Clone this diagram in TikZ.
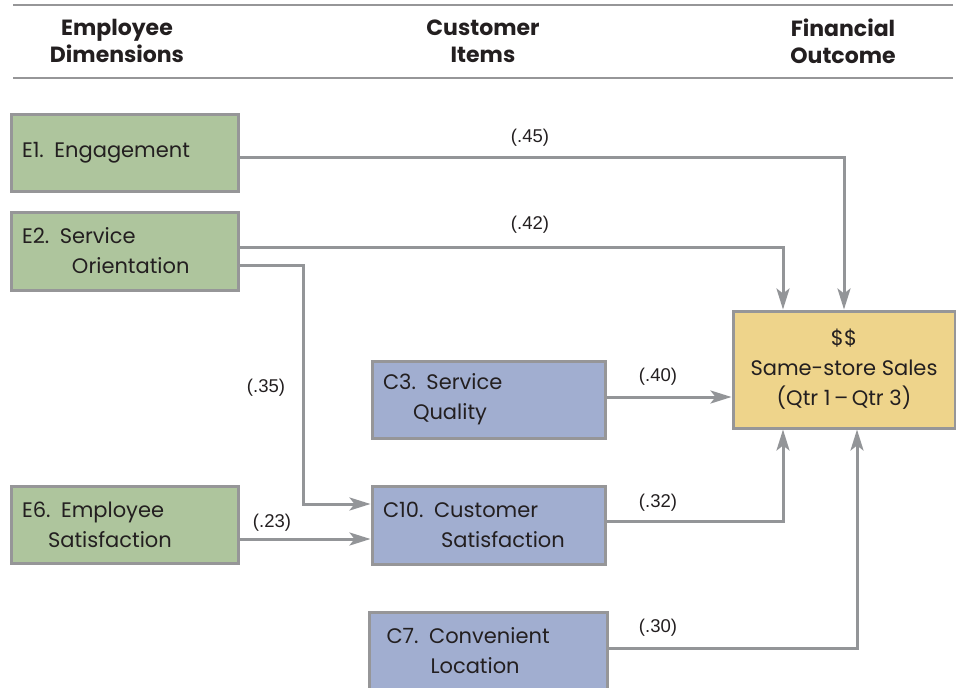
\documentclass[tikz,border=0pt]{standalone}
\usepackage{fontspec}
\setmainfont{Poppins}
\newfontfamily\labelfont{Liberation Sans}
\usetikzlibrary{arrows.meta}
\definecolor{boxgreen}{HTML}{AEC59D}
\definecolor{boxblue}{HTML}{A1AED0}
\definecolor{boxyellow}{HTML}{EED48B}
\definecolor{boxborder}{HTML}{969698}
\definecolor{arrowgray}{HTML}{939598}
\definecolor{inkcol}{HTML}{231F20}
\tikzset{
  box/.style={rectangle, draw=boxborder, line width=3pt, align=left, text=inkcol,
    font=\fontsize{21}{30}\selectfont, inner ysep=0pt},
  ebox/.style={box, fill=boxgreen, minimum width=227pt, minimum height=77pt, text width=205pt, inner xsep=11pt},
  cbox/.style={box, fill=boxblue, minimum width=233pt, minimum height=77pt, text width=211pt, inner xsep=11pt},
  sbox/.style={box, fill=boxyellow, minimum width=222pt, minimum height=117pt, align=center, inner xsep=0pt},
  head/.style={align=center, text=inkcol, font=\fontsize{22}{27}\selectfont\bfseries},
  lab/.style={text=inkcol, font=\labelfont\fontsize{18.5}{22}\selectfont, inner sep=0pt},
  conn/.style={draw=arrowgray, line width=3pt, -{Stealth[length=21pt,width=13pt,inset=5pt]}},
  rulel/.style={draw=boxborder, line width=2pt}
}
\begin{document}
\begin{tikzpicture}[x=1pt,y=-1pt]
\useasboundingbox (0,0) rectangle (956,688);
\draw[rulel] (13,5) -- (953,5);
\draw[rulel] (13,78) -- (953,78);
\node[head] (h1) at (117,41) {Employee\\Dimensions};
\node[head] (h2) at (483,41) {Customer\\Items};
\node[head] (h3) at (843,41) {Financial\\Outcome};

\node[ebox] (E1) at (124.5,152.5) {E1. Engagement};
\node[ebox, minimum height=78pt] (E2) at (124.5,251) {E2. Service\\\hspace*{50pt}Orientation};
\node[ebox] (E6) at (124.5,524.5) {E6. Employee\\\hspace*{26pt}Satisfaction};
\node[cbox] (C3) at (488.5,399.5) {C3. Service\\\hspace*{30pt}Quality};
\node[cbox, minimum height=78pt] (C10) at (488.5,525) {C10. Customer\\\hspace*{58pt}Satisfaction};
\node[cbox, minimum height=78pt, text width=204pt, inner xsep=17pt] (C7) at (488.5,651) {C7. Convenient\\\hspace*{44pt}Location};
\node[sbox] (S) at (844,369.5) {\$\$\\Same-store Sales\\(Qtr 1\,–\,Qtr 3)};

\draw[conn] (E1.east |- 0,157) -| (S.north);
\draw[conn] (E2.east |- 0,247) -| (S.north -| 783,0);
\draw[conn] (E2.east |- 0,265) -- (303,265) |- (C10.west |- 0,504);
\draw[conn] (E6.east |- 0,539) -- (C10.west |- 0,539);
\draw[conn] (C3.east |- 0,397) -- (S.west |- 0,397);
\draw[conn] (C10.east |- 0,521) -| (S.south -| 783,0);
\draw[conn] (C7.east |- 0,648) -| (S.south -| 857,0);

\node[lab] (l45) at (530,138) {(.45)};
\node[lab] (l42) at (530,225) {(.42)};
\node[lab] (l35) at (266,388) {(.35)};
\node[lab] (l40) at (658,377) {(.40)};
\node[lab] (l23) at (272,523) {(.23)};
\node[lab] (l32) at (658,503) {(.32)};
\node[lab] (l30) at (658,628) {(.30)};
\end{tikzpicture}
\end{document}
